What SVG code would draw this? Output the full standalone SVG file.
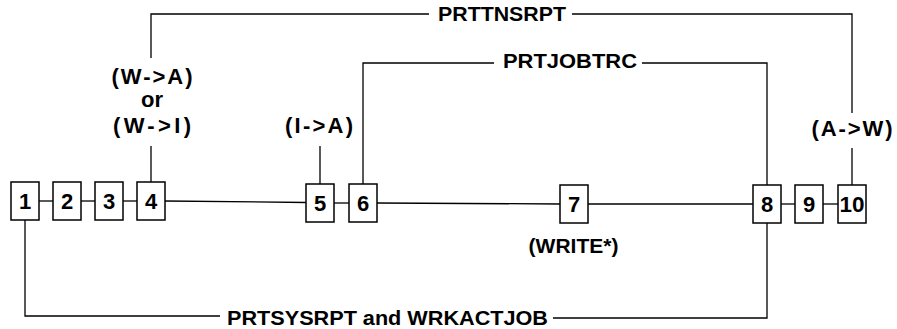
<svg xmlns="http://www.w3.org/2000/svg" width="897" height="329" viewBox="0 0 897 329">
<style>
.box{fill:#fff;stroke:#000;stroke-width:1.5}
.ln{fill:none;stroke:#000;stroke-width:1.3}
.t{font-family:"Liberation Sans",Arial,Helvetica,sans-serif;font-weight:bold;font-size:21px;fill:#000}
.p{font-size:22px}
.d{font-family:"Liberation Sans",Arial,Helvetica,sans-serif;font-weight:bold;font-size:22px;fill:#000;text-anchor:middle}
.m{text-anchor:middle}
</style>
<rect width="897" height="329" fill="#fff"/>
<g id="connectors">
<polyline class="ln" points="39,201 53,201"/>
<polyline class="ln" points="81,201 95,201"/>
<polyline class="ln" points="123,201 137,201"/>
<polyline class="ln" points="165,201 306,202.5"/>
<polyline class="ln" points="334,203 349,203"/>
<polyline class="ln" points="377,203 560,204"/>
<polyline class="ln" points="588,204 753,204"/>
<polyline class="ln" points="781,204 795,204"/>
<polyline class="ln" points="823,204 838,204"/>
<polyline class="ln" points="151,58 151,14 429,14"/>
<polyline class="ln" points="572,14 852,14 852,113"/>
<polyline class="ln" points="151,146 151,182"/>
<polyline class="ln" points="852,148 852,185"/>
<polyline class="ln" points="320,146 320,184"/>
<polyline class="ln" points="363,184 363,63 494,63"/>
<polyline class="ln" points="642,63 767,63 767,185"/>
<polyline class="ln" points="25,220 25,316 220,316"/>
<polyline class="ln" points="553,318 767,318 767,223"/>
</g>
<g id="labels">
<text class="t m" x="502" y="21" textLength="128" lengthAdjust="spacingAndGlyphs">PRTTNSRPT</text>
<text class="t m" x="570" y="68" textLength="134" lengthAdjust="spacingAndGlyphs">PRTJOBTRC</text>
<text class="t m" x="387.5" y="325" textLength="321" lengthAdjust="spacingAndGlyphs">PRTSYSRPT and WRKACTJOB</text>
<text class="t p m" x="152" y="84" textLength="81" lengthAdjust="spacing">(W->A)</text>
<text class="t p m" x="152" y="107">or</text>
<text class="t p m" x="152" y="133" textLength="78" lengthAdjust="spacing">(W->I)</text>
<text class="t p m" x="319" y="133" textLength="68" lengthAdjust="spacing">(I->A)</text>
<text class="t p m" x="852" y="136" textLength="81" lengthAdjust="spacing">(A->W)</text>
<text class="t m" x="573.5" y="253">(WRITE*)</text>
</g>
<g id="n1"><rect class="box" x="11" y="182" width="28" height="38"/><text class="d" x="25" y="209">1</text></g>
<g id="n2"><rect class="box" x="53" y="182" width="28" height="38"/><text class="d" x="67" y="209">2</text></g>
<g id="n3"><rect class="box" x="95" y="182" width="28" height="38"/><text class="d" x="109" y="209">3</text></g>
<g id="n4"><rect class="box" x="137" y="182" width="28" height="38"/><text class="d" x="151" y="209">4</text></g>
<g id="n5"><rect class="box" x="306" y="184" width="28" height="38"/><text class="d" x="320" y="211">5</text></g>
<g id="n6"><rect class="box" x="349" y="184" width="28" height="38"/><text class="d" x="363" y="211">6</text></g>
<g id="n7"><rect class="box" x="560" y="185" width="28" height="38"/><text class="d" x="574" y="212">7</text></g>
<g id="n8"><rect class="box" x="753" y="185" width="28" height="38"/><text class="d" x="767" y="212">8</text></g>
<g id="n9"><rect class="box" x="795" y="185" width="28" height="38"/><text class="d" x="809" y="212">9</text></g>
<g id="n10"><rect class="box" x="838" y="185" width="28" height="38"/><text class="d" x="852" y="212" textLength="25" lengthAdjust="spacingAndGlyphs">10</text></g>
</svg>
